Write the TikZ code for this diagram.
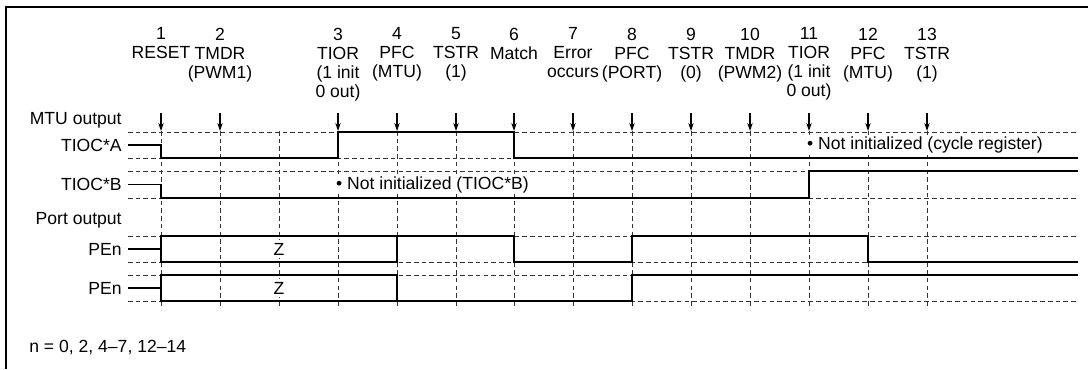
\documentclass[tikz,border=0pt]{standalone}
\usepackage{fontspec}
\setmainfont{Liberation Sans}
\usepackage{xcolor}
\usepackage{tikz}
\usetikzlibrary{arrows.meta,positioning,calc}

\begin{document}
\begin{tikzpicture}[
    x=0.02cm, y=-0.02cm,
    every node/.style={font=\fontsize{10}{10.8}\selectfont},
    ev/.style={align=center, anchor=north, inner sep=0pt},
    rowlbl/.style={anchor=east, inner sep=0pt},
    note/.style={anchor=west, fill=white, inner sep=1pt},
    grid/.style={draw=black!80, line width=0.55pt, dash pattern=on 2.6pt off 1.8pt},
    sig/.style={draw=black, line width=1.1pt},
    arr/.style={-{Stealth[length=4.5pt, width=3pt]}, line width=0.6pt}
]
    \useasboundingbox (0,0) rectangle (1088,369);
    \draw [line width=0.6pt] (6,369) |- (1088,7);

    % columns of the grid
    \foreach \k/\xx in {0/161,1/220,2/279,3/338,4/397,5/456,6/514,7/573,8/632,9/691,10/750,11/809,12/868,13/927} {
        \coordinate (c\k) at (\xx,131);
        \coordinate (b\k) at (\xx,306);
        \coordinate (a\k) at (\xx,113);
        \draw [grid] (c\k) -- (b\k);
    }
    \foreach \yy in {132,158,171,198,236,262,275,301}
        \draw [grid] (128,\yy) -- (1078,\yy);

    % events
    \foreach \k/\txt in {0/{1\\RESET}, 1/{2\\TMDR\\(PWM1)}, 3/{3\\TIOR\\(1 init\\0 out)},
        4/{4\\PFC\\(MTU)}, 5/{5\\TSTR\\(1)}, 6/{6\\Match}, 7/{7\\Error\\occurs},
        8/{8\\PFC\\(PORT)}, 9/{9\\TSTR\\(0)}, 10/{10\\TMDR\\(PWM2)},
        11/{11\\TIOR\\(1 init\\0 out)}, 12/{12\\PFC\\(MTU)}, 13/{13\\TSTR\\(1)}} {
        \node [ev] (ev\k) at ($(a\k)+(0,-85.5)$) {\txt};
        \draw [arr] (a\k) -- (c\k);
    }

    % row labels
    \node [rowlbl] (mtu) at (122,120) {MTU output};
    \node [rowlbl] (tiocA) at (122,145) {TIOC*A};
    \node [rowlbl] (tiocB) at (122,184.5) {TIOC*B};
    \node [rowlbl] (port) at (122,220) {Port output};
    \node [rowlbl] (pe1) at (122,249) {PEn};
    \node [rowlbl] (pe2) at (122,288) {PEn};

    % waveforms
    \draw [sig] (128,145) -| (161,158) -| (338,132) -| (514,158) -- (1078,158);
    \draw [sig] (128,184.5) -| (161,198) -| (809,171) -- (1078,171);
    \draw [sig] (128,249) -- (161,249);
    \draw [sig] (397,236) |- (161,262) |- (514,236) |- (632,262) |- (868,236) |- (1078,262);
    \draw [sig] (128,288) -- (161,288);
    \draw [sig] (397,301) |- (161,275) |- (632,301) |- (1078,275);

    \node [fill=white, inner sep=1.5pt] (z1) at (c2 |- pe1) {Z};
    \node [fill=white, inner sep=1.5pt] (z2) at (c2 |- pe2) {Z};
    \node [note] (ntB) at (334,184.5) {• Not initialized (TIOC*B)};
    \node [note] (ntA) at (805,145) {• Not initialized (cycle register)};

    \node [anchor=west, inner sep=0pt] (nlist) at (29,347) {n = 0, 2, 4–7, 12–14};
\end{tikzpicture}
\end{document}
